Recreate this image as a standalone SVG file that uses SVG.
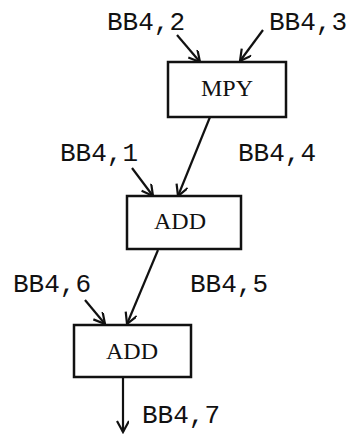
<svg xmlns="http://www.w3.org/2000/svg" width="350" height="434" viewBox="0 0 350 434">
<style>
.box{fill:#fff;stroke:#111;stroke-width:2.5}
.lbl{font-family:"Liberation Mono","DejaVu Sans Mono",monospace;font-size:26px;fill:#111}
.op{font-family:"Liberation Serif","DejaVu Serif",serif;font-size:24px;fill:#111;text-anchor:middle}
.edge{stroke:#111;stroke-width:2.2;fill:none;marker-end:url(#ah)}
</style>
<defs>
<marker id="ah" markerUnits="userSpaceOnUse" markerWidth="14" markerHeight="14" refX="12" refY="6" orient="auto">
<path d="M1,0 L12,6 L1,12" fill="none" stroke="#111" stroke-width="2.2"/>
</marker>
</defs>
<rect width="350" height="434" fill="#fff"/>
<g id="connectors">
<line class="edge" x1="177" y1="35" x2="200" y2="62"/>
<line class="edge" x1="263" y1="30" x2="240" y2="61"/>
<line class="edge" x1="210" y1="117" x2="178" y2="196"/>
<line class="edge" x1="132" y1="168" x2="153" y2="196"/>
<line class="edge" x1="158" y1="250" x2="127" y2="324"/>
<line class="edge" x1="85" y1="300" x2="105" y2="324"/>
<line class="edge" x1="123" y1="377" x2="123" y2="432"/>
</g>
<g id="mpy">
<rect class="box" x="168" y="62" width="118" height="55"/>
<text class="op" x="227" y="96">MPY</text>
</g>
<g id="add1">
<rect class="box" x="127" y="196" width="114" height="53"/>
<text class="op" x="180" y="229">ADD</text>
</g>
<g id="add2">
<rect class="box" x="74" y="325" width="117" height="52"/>
<text class="op" x="132" y="359">ADD</text>
</g>
<g id="labels">
<text class="lbl" x="107" y="30">BB4,2</text>
<text class="lbl" x="269" y="30">BB4,3</text>
<text class="lbl" x="60" y="161">BB4,1</text>
<text class="lbl" x="238" y="161">BB4,4</text>
<text class="lbl" x="13" y="292">BB4,6</text>
<text class="lbl" x="190" y="292">BB4,5</text>
<text class="lbl" x="142" y="423">BB4,7</text>
</g>
</svg>
